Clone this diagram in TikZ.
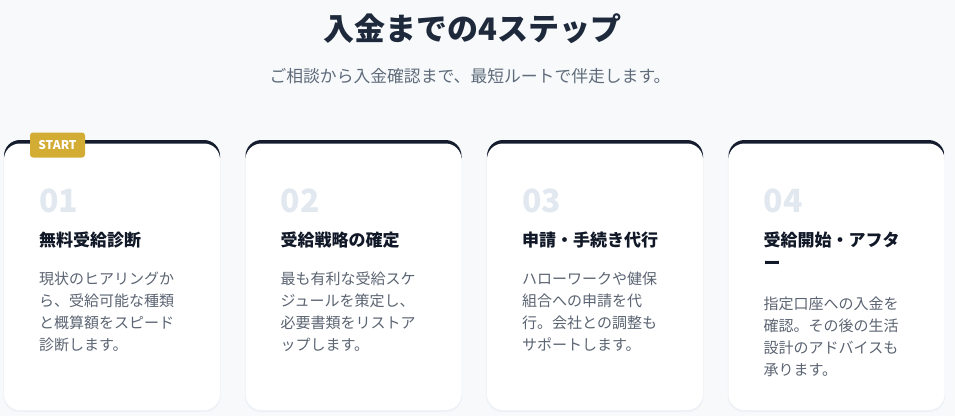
\documentclass[tikz,border=0pt]{standalone}
\usepackage{fontspec}
\usetikzlibrary{positioning,calc}
\newfontfamily\jp{Noto Sans CJK JP}
\definecolor{pagebg}{HTML}{F7F9FB}
\definecolor{navy}{HTML}{141C2E}
\definecolor{titlecol}{HTML}{1E293B}
\definecolor{subcol}{HTML}{5F6B7A}
\definecolor{numcol}{HTML}{E2E8F0}
\definecolor{headcol}{HTML}{111827}
\definecolor{bodycol}{HTML}{5B6472}
\definecolor{gold}{HTML}{D3AC34}
\definecolor{shadowcol}{HTML}{EEF1F5}

\begin{document}
\begin{tikzpicture}[x=1pt,y=-1pt]
  \useasboundingbox[fill=pagebg] (0,0) rectangle (955,416);
  \coordinate(card1) at (4,140);
  \coordinate(card2) at ($(card1)+(241.5,0)$);
  \coordinate(card3) at ($(card2)+(241.5,0)$);
  \coordinate(card4) at ($(card3)+(241.5,0)$);
  % header
  \node[font=\jp\bfseries\fontsize{31}{36}\selectfont,text=titlecol,inner sep=0]
    (title) at (472.5,29) {入金までの4ステップ};
  \node[font=\jp\fontsize{16.8}{20}\selectfont,text=subcol,inner sep=0]
    (subtitle) at (470,76.5) {ご相談から入金確認まで、最短ルートで伴走します。};
  % cards: soft shadow, dark top edge, white face
  \begin{scope}[card/.style={rounded corners=16}]
    \fill[shadowcol,card] ($(card1)+(-0.6,0)$) rectangle ++(217.2,272);
    \fill[shadowcol,card] ($(card2)+(-0.6,0)$) rectangle ++(217.2,272);
    \fill[shadowcol,card] ($(card3)+(-0.6,0)$) rectangle ++(217.2,272);
    \fill[shadowcol,card] ($(card4)+(-0.6,0)$) rectangle ++(217.2,272);
    \begin{scope}
      \clip (card1) rectangle ++(216,18) (card2) rectangle ++(216,18)
            (card3) rectangle ++(216,18) (card4) rectangle ++(216,18);
      \fill[navy,card] (card1) rectangle ++(216,270);
      \fill[navy,card] (card2) rectangle ++(216,270);
      \fill[navy,card] (card3) rectangle ++(216,270);
      \fill[navy,card] (card4) rectangle ++(216,270);
    \end{scope}
    \fill[white,card] ($(card1)+(0,3.5)$) rectangle ++(216,266.5);
    \fill[white,card] ($(card2)+(0,3.5)$) rectangle ++(216,266.5);
    \fill[white,card] ($(card3)+(0,3.5)$) rectangle ++(216,266.5);
    \fill[white,card] ($(card4)+(0,3.5)$) rectangle ++(216,266.5);
  \end{scope}
  \node[fill=gold,rounded corners=3,minimum width=55,minimum height=25,
    text=white,font=\jp\bfseries\fontsize{12}{14}\selectfont,inner sep=0]
    (start) at ($(card1)+(53.5,5)$) {START};
  \begin{scope}[
    every node/.style={anchor=north west,align=left,inner sep=0},
    num/.style={text=numcol,font=\jp\bfseries\fontsize{32}{36}\selectfont},
    head/.style={text=headcol,font=\jp\bfseries\fontsize{17}{23}\selectfont},
    body/.style={text=bodycol,font=\jp\fontsize{15}{22}\selectfont},
    ]
    \node[num]  (num1)  at ($(card1)+(35,48.5)$)  {01};
    \node[head] (head1) at ($(card1)+(35,91.7)$)  {無料受給診断};
    \node[body] (body1) at ($(card1)+(35,131.7)$) {現状のヒアリングか\\ら、受給可能な種類\\と概算額をスピード\\診断します。};
    \node[num]  (num2)  at ($(card2)+(35,48.5)$)  {02};
    \node[head] (head2) at ($(card2)+(35,91.7)$)  {受給戦略の確定};
    \node[body] (body2) at ($(card2)+(35,131.7)$) {最も有利な受給スケ\\ジュールを策定し、\\必要書類をリストア\\ップします。};
    \node[num]  (num3)  at ($(card3)+(35,48.5)$)  {03};
    \node[head] (head3) at ($(card3)+(35,91.7)$)  {申請・手続き代行};
    \node[body] (body3) at ($(card3)+(35,131.7)$) {ハローワークや健保\\組合への申請を代\\行。会社との調整も\\サポートします。};
    \node[num]  (num4)  at ($(card4)+(35,48.5)$)  {04};
    \node[head] (head4) at ($(card4)+(35,91.7)$)  {受給開始・アフタ\\ー};
    \node[body] (body4) at ($(card4)+(35,156.7)$) {指定口座への入金を\\確認。その後の生活\\設計のアドバイスも\\承ります。};
  \end{scope}
\end{tikzpicture}
\end{document}
